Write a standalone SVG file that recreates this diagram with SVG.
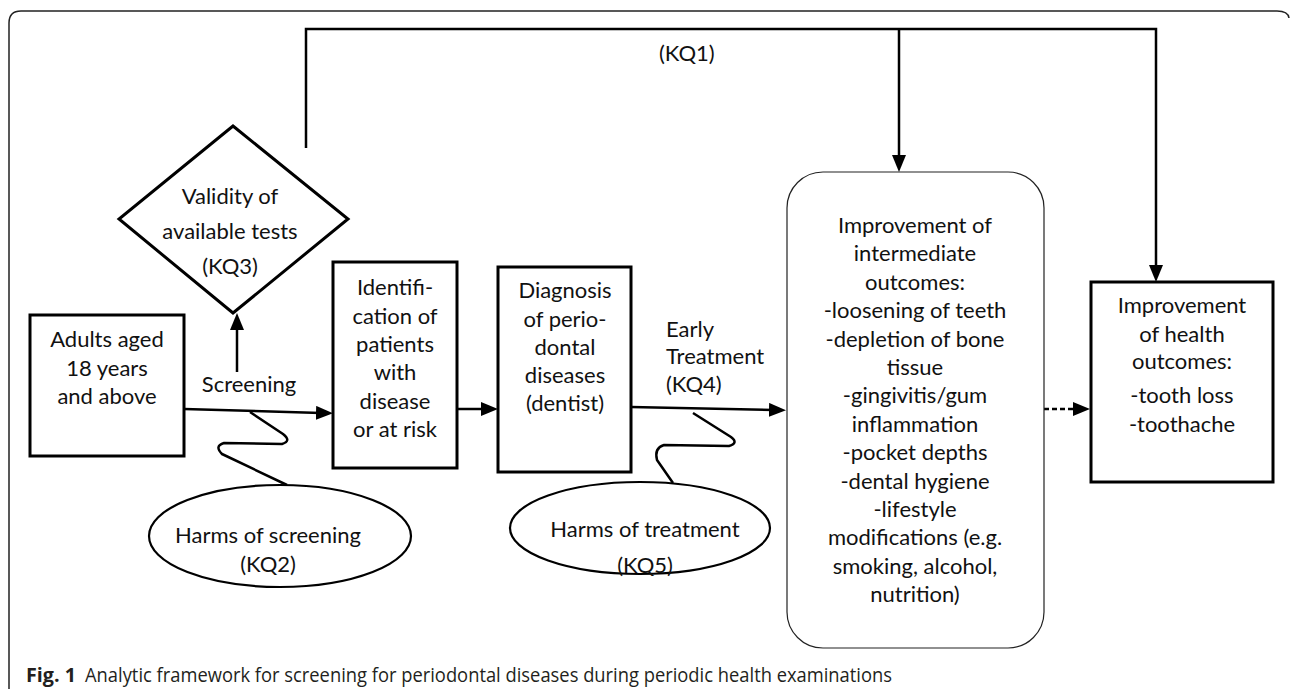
<svg xmlns="http://www.w3.org/2000/svg" width="1290" height="689" viewBox="0 0 1290 689">
<defs>
<style>
.t{font-family:Lato,"Open Sans","Liberation Sans",sans-serif;font-size:22px;fill:#111;text-anchor:middle}
.tl{font-family:Lato,"Open Sans","Liberation Sans",sans-serif;font-size:22px;fill:#111}
.box{fill:#fff;stroke:#000;stroke-width:3}
.ell{fill:#fff;stroke:#000;stroke-width:2.2}
.rbox{fill:#fff;stroke:#222;stroke-width:1.2}
.con{fill:none;stroke:#000;stroke-width:2.5}
.sq{fill:none;stroke:#000;stroke-width:2.5;stroke-linejoin:round}
.cap{font-family:"Open Sans","Liberation Sans",sans-serif;font-size:19.5px;fill:#231f20}
</style>
<marker id="arr" markerUnits="userSpaceOnUse" markerWidth="18" markerHeight="16" refX="5" refY="7" orient="auto">
<path d="M0,0 L17,7 L0,14 z" fill="#000"/>
</marker>
</defs>
<rect width="1290" height="689" fill="#fff"/>
<path d="M9 689 V23 Q9 11 21 11 H1277 Q1288 11 1289 18" fill="none" stroke="#222" stroke-width="1.5"/>

<g id="connectors">
<path class="con" d="M306 148 V29 H1156 V270" marker-end="url(#arr)"/>
<line class="con" x1="899" y1="29" x2="899" y2="160" marker-end="url(#arr)"/>
<line class="con" x1="237" y1="372" x2="237" y2="325" marker-end="url(#arr)"/>
<line class="con" x1="184" y1="409" x2="321" y2="413" marker-end="url(#arr)"/>
<line class="con" x1="457" y1="409" x2="486" y2="409" marker-end="url(#arr)"/>
<line class="con" x1="631" y1="407" x2="774" y2="410" marker-end="url(#arr)"/>
<line class="con" x1="1044" y1="409" x2="1078" y2="409" stroke-dasharray="5 3" marker-end="url(#arr)"/>
<path class="sq" d="M250 412 L283 434 Q292 441 282 444 L224 443 Q214 446 222 454 L287 485"/>
<path class="sq" d="M693 413 L731 437 Q739 443 729 446 L664 445 Q654 448 657 460 L673 483"/>
<text class="tl" x="659" y="61">(KQ1)</text>
<text class="t" x="249" y="392">Screening</text>
<text class="tl" x="666" y="337">Early</text>
<text class="tl" x="666" y="364">Treatment</text>
<text class="tl" x="666" y="392">(KQ4)</text>
</g>

<g id="validity">
<polygon class="box" points="233,126 348,219 233,313 119,219"/>
<text class="t" x="230" y="204">Validity of</text>
<text class="t" x="230" y="239">available tests</text>
<text class="t" x="230" y="274">(KQ3)</text>
</g>

<g id="adults">
<rect class="box" x="30" y="315" width="154" height="141"/>
<text class="t" x="107" y="347">Adults aged</text>
<text class="t" x="107" y="376">18 years</text>
<text class="t" x="107" y="404">and above</text>
</g>

<g id="identification">
<rect class="box" x="333" y="262" width="124" height="206"/>
<text class="t" x="395" y="295">Identifi-</text>
<text class="t" x="395" y="323.5">cation of</text>
<text class="t" x="395" y="352">patients</text>
<text class="t" x="395" y="380">with</text>
<text class="t" x="395" y="408.5">disease</text>
<text class="t" x="395" y="437">or at risk</text>
</g>

<g id="diagnosis">
<rect class="box" x="498" y="267" width="133" height="205"/>
<text class="t" x="565" y="298">Diagnosis</text>
<text class="t" x="565" y="327">of perio-</text>
<text class="t" x="565" y="355">dontal</text>
<text class="t" x="565" y="383">diseases</text>
<text class="t" x="565" y="411">(dentist)</text>
</g>

<g id="harms-screening">
<ellipse class="ell" cx="280" cy="536" rx="131" ry="51"/>
<text class="t" x="268" y="543">Harms of screening</text>
<text class="t" x="268" y="572">(KQ2)</text>
</g>

<g id="harms-treatment">
<ellipse class="ell" cx="640" cy="528" rx="130" ry="46"/>
<text class="t" x="645" y="537">Harms of treatment</text>
<text class="t" x="645" y="573">(KQ5)</text>
</g>

<g id="intermediate">
<rect class="rbox" x="787" y="172" width="257" height="476" rx="36" ry="36"/>
<text class="t" x="915" y="233">Improvement of</text>
<text class="t" x="915" y="261.4">intermediate</text>
<text class="t" x="915" y="289.8">outcomes:</text>
<text class="t" x="915" y="318.2">-loosening of teeth</text>
<text class="t" x="915" y="346.6">-depletion of bone</text>
<text class="t" x="915" y="375">tissue</text>
<text class="t" x="915" y="403.4">-gingivitis/gum</text>
<text class="t" x="915" y="431.8">inflammation</text>
<text class="t" x="915" y="460.2">-pocket depths</text>
<text class="t" x="915" y="488.6">-dental hygiene</text>
<text class="t" x="915" y="517">-lifestyle</text>
<text class="t" x="915" y="545.4">modifications (e.g.</text>
<text class="t" x="915" y="573.8">smoking, alcohol,</text>
<text class="t" x="915" y="602.2">nutrition)</text>
</g>

<g id="health">
<rect class="box" x="1091" y="282" width="182" height="200"/>
<text class="t" x="1182" y="313">Improvement</text>
<text class="t" x="1182" y="342">of health</text>
<text class="t" x="1182" y="369">outcomes:</text>
<text class="t" x="1182" y="403">-tooth loss</text>
<text class="t" x="1182" y="432">-toothache</text>
</g>

<g id="caption">
<text class="cap" x="26" y="682" font-weight="bold" textLength="50" lengthAdjust="spacingAndGlyphs">Fig. 1</text>
<text class="cap" x="85" y="682" textLength="807" lengthAdjust="spacingAndGlyphs">Analytic framework for screening for periodontal diseases during periodic health examinations</text>
</g>
</svg>
